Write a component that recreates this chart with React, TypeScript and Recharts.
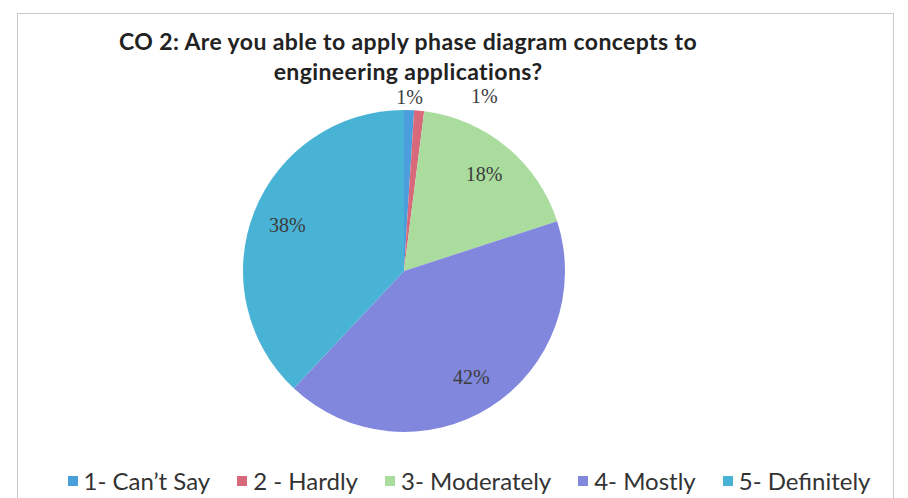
import React from "react";
import { PieChart, Pie, Cell, Legend } from "recharts";

const categories = ["1- Can\u2019t Say", "2 - Hardly", "3- Moderately", "4- Mostly", "5- Definitely"];
const shares = [1, 1, 18, 42, 38];
const colors = ["#4a9edb", "#d8697b", "#a9dc9d", "#8187dc", "#49b3d5"];

const titleLines = [
  "CO 2: Are you able to apply phase diagram concepts to",
  "engineering applications?",
];

const data = categories.map((name, i) => ({ name, value: shares[i] }));

const RAD = Math.PI / 180;

const renderLabel = (props: any) => {
  const { cx, cy, midAngle, outerRadius, percent, index } = props;
  const small = percent < 0.05;
  const r = small ? outerRadius + 13 : outerRadius * 0.78;
  let x = cx + r * Math.cos(-midAngle * RAD);
  let y = cy + r * Math.sin(-midAngle * RAD);
  // second tiny slice gets pushed right so the two 1% labels don't collide
  if (small && index === 1) {
    x += 64;
    y -= 2;
  }
  return (
    <text
      x={x}
      y={y}
      fill="#3c3c3c"
      fontSize={20}
      fontFamily="'Liberation Serif', serif"
      textAnchor="middle"
      dominantBaseline="central"
    >
      {`${Math.round(percent * 100)}%`}
    </text>
  );
};

const LegendContent = (props: any) => {
  const items = props.payload || [];
  return (
    <div
      style={{
        display: "flex",
        justifyContent: "center",
        gap: 27,
        fontFamily: "Lato, sans-serif",
        fontSize: 24,
        color: "#333",
        marginLeft: 30,
      }}
    >
      {items.map((it: any) => (
        <div key={it.value} style={{ display: "flex", alignItems: "center" }}>
          <span
            style={{
              display: "inline-block",
              width: 10,
              height: 10,
              background: it.color,
              marginRight: 6,
            }}
          />
          <span>{it.value}</span>
        </div>
      ))}
    </div>
  );
};

export default function App() {
  return (
    <div
      style={{
        position: "absolute",
        left: 0,
        top: 0,
        width: 908,
        height: 498,
        background: "#fff",
        overflow: "hidden",
      }}
    >
      <div
        style={{
          position: "absolute",
          left: 17,
          top: 13,
          width: 875,
          height: 520,
          border: "1px solid #c9c9c9",
        }}
      />
      <div
        style={{
          position: "absolute",
          left: 0,
          top: 26,
          width: 816,
          textAlign: "center",
          fontFamily: "Lato, sans-serif",
          fontWeight: 700,
          fontSize: 23,
          letterSpacing: 0.4,
          lineHeight: "30px",
          color: "#222",
        }}
      >
        {titleLines.map((t) => (
          <div key={t}>{t}</div>
        ))}
      </div>
      <div style={{ position: "absolute", left: 0, top: 0 }}>
        <PieChart width={908} height={498}>
          <Pie
            data={data}
            dataKey="value"
            nameKey="name"
            cx={399}
            cy={266}
            outerRadius={161}
            startAngle={90}
            endAngle={-270}
            stroke="none"
            label={renderLabel}
            labelLine={false}
            isAnimationActive={false}
          >
            {data.map((d, i) => (
              <Cell key={d.name} fill={colors[i]} />
            ))}
          </Pie>
          <Legend
            content={<LegendContent />}
            wrapperStyle={{ position: "absolute", left: 0, top: 466, width: 908 }}
          />
        </PieChart>
      </div>
    </div>
  );
}
